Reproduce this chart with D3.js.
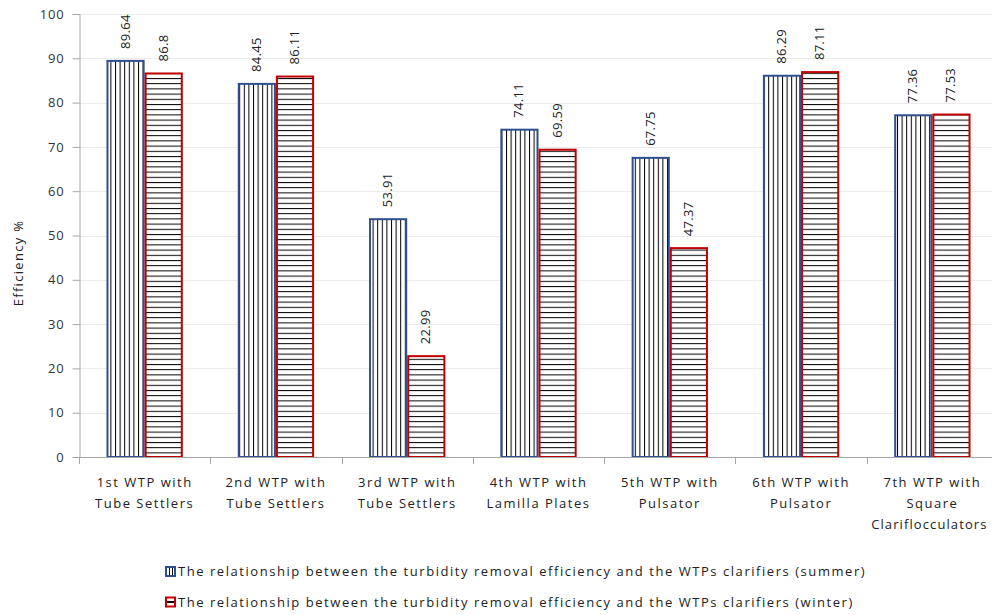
<!DOCTYPE html>
<html><head><meta charset="utf-8">
<script src="https://cdn.jsdelivr.net/npm/d3@7"></script>
<style>body{margin:0;background:#fff;} text{font-family:"Open Sans",sans-serif;}</style>
</head><body>
<svg id="c" width="992" height="615"></svg>
<script>
const categories = [
  ["1st WTP with","Tube Settlers"],
  ["2nd WTP with","Tube Settlers"],
  ["3rd WTP with","Tube Settlers"],
  ["4th WTP with","Lamilla Plates"],
  ["5th WTP with","Pulsator"],
  ["6th WTP with","Pulsator"],
  ["7th WTP with","Square","Clariflocculators"]
];
const summer = [89.64, 84.45, 53.91, 74.11, 67.75, 86.29, 77.36];
const winter = [86.8, 86.11, 22.99, 69.59, 47.37, 87.11, 77.53];
const summerLabels = ["89.64","84.45","53.91","74.11","67.75","86.29","77.36"];
const winterLabels = ["86.8","86.11","22.99","69.59","47.37","87.11","77.53"];
const yTicks = [0,10,20,30,40,50,60,70,80,90,100];
const seriesNames = [
  "The relationship between the turbidity removal efficiency and the WTPs clarifiers (summer)",
  "The relationship between the turbidity removal efficiency and the WTPs clarifiers (winter)"
];

const svg = d3.select("#c");
const defs = svg.append("defs");
const pv = defs.append("pattern").attr("id","pv").attr("patternUnits","userSpaceOnUse").attr("width",4.6).attr("height",10);
pv.append("rect").attr("width",4.6).attr("height",10).attr("fill","#fff");
pv.append("line").attr("x1",0.5).attr("x2",0.5).attr("y1",0).attr("y2",10).attr("stroke","#000").attr("stroke-width",1);
const ph = defs.append("pattern").attr("id","ph").attr("patternUnits","userSpaceOnUse").attr("width",10).attr("height",5.2);
ph.append("rect").attr("width",10).attr("height",5.2).attr("fill","#fff");
ph.append("line").attr("x1",0).attr("x2",10).attr("y1",0.5).attr("y2",0.5).attr("stroke","#000").attr("stroke-width",1);

const x0 = 79, x1 = 998;
const y = d3.scaleLinear().domain([0,100]).range([457,14]);
const x = d3.scaleBand().domain(d3.range(categories.length)).range([x0,x1]).paddingInner(0).paddingOuter(0);
const xs = d3.scaleBand().domain([0,1]).range([0,x.bandwidth()]).paddingOuter(0.72).paddingInner(0);

// grid
svg.append("g").selectAll("line").data(yTicks.slice(1)).join("line")
  .attr("x1",x0).attr("x2",992).attr("y1",d=>Math.round(y(d))+0.5).attr("y2",d=>Math.round(y(d))+0.5)
  .attr("stroke","#ebebeb");

// y axis
const ya = d3.axisLeft(y).tickValues(yTicks).tickSize(7).tickPadding(8);
const gy = svg.append("g").attr("transform",`translate(${x0+0.5},0)`).call(ya);
gy.select(".domain").attr("stroke","#a6a6a6");
gy.selectAll(".tick line").attr("stroke","#a6a6a6");
gy.selectAll(".tick text").attr("font-size",13).attr("fill","#333").attr("letter-spacing",0.8).attr("font-family","Open Sans");

svg.append("text").attr("transform","translate(23,263) rotate(-90)").attr("text-anchor","middle")
  .attr("font-size",13).attr("letter-spacing",1.3).attr("fill","#222").text("Efficiency %");

// bars
const data = categories.map((c,i)=>({i, s:summer[i], w:winter[i]}));
const gb = svg.append("g");
data.forEach(d=>{
  const bx = x(d.i);
  [[d.s,0,"url(#pv)","#2f4f8f",summerLabels[d.i]],[d.w,1,"url(#ph)","#c00000",winterLabels[d.i]]].forEach(([v,k,fill,stroke,lab])=>{
    const left = bx + xs(k);
    gb.append("rect").attr("x",left+1).attr("y",y(v)+1).attr("width",xs.bandwidth()-2).attr("height",y(0)-y(v)-1)
      .attr("fill",fill).attr("stroke",stroke).attr("stroke-width",2);
    gb.append("text").attr("transform",`translate(${left+xs.bandwidth()/2+4},${y(v)-11}) rotate(-90)`)
      .attr("font-size",13).attr("letter-spacing",0.3).attr("fill","#222").text(lab);
  });
});

// x axis
svg.append("line").attr("x1",x0).attr("x2",992).attr("y1",457.5).attr("y2",457.5).attr("stroke","#a6a6a6");
svg.append("g").selectAll("line").data(d3.range(categories.length+1)).join("line")
  .attr("x1",d=>Math.round(x0+d*x.bandwidth())+0.5).attr("x2",d=>Math.round(x0+d*x.bandwidth())+0.5)
  .attr("y1",457).attr("y2",464).attr("stroke","#a6a6a6");
const gl = svg.append("g");
categories.forEach((c,i)=>{
  c.forEach((line,j)=>{
    const long = line.length > 15;
    gl.append("text").attr("text-anchor","middle").attr("font-size",13)
      .attr("letter-spacing",long?1.1:1.5).attr("fill","#222")
      .attr("x",long?x(i)+x.bandwidth()/2-3:x(i)+x.bandwidth()/2).attr("y",487+j*21).text(line);
  });
});

// legend
const lg = svg.append("g");
[[0,"#2f4f8f"],[1,"#c00000"]].forEach(([k,stroke])=>{
  const ly = 576 + k*30.5;
  lg.append("rect").attr("x",166).attr("y",ly-9).attr("width",9).attr("height",9).attr("fill","#fff").attr("stroke",stroke).attr("stroke-width",2);
  if(k===0){
    [169.5,172.5].forEach(lx=>lg.append("line").attr("x1",lx).attr("x2",lx).attr("y1",ly-8).attr("y2",ly-1).attr("stroke","#000"));
  } else {
    lg.append("rect").attr("x",167).attr("y",ly-5.5).attr("width",7).attr("height",2).attr("fill","#000");
  }
  lg.append("text").attr("x",178).attr("y",ly).attr("font-size",13).attr("letter-spacing",1.55).attr("fill","#222").text(seriesNames[k]);
});
</script>
</body></html>
